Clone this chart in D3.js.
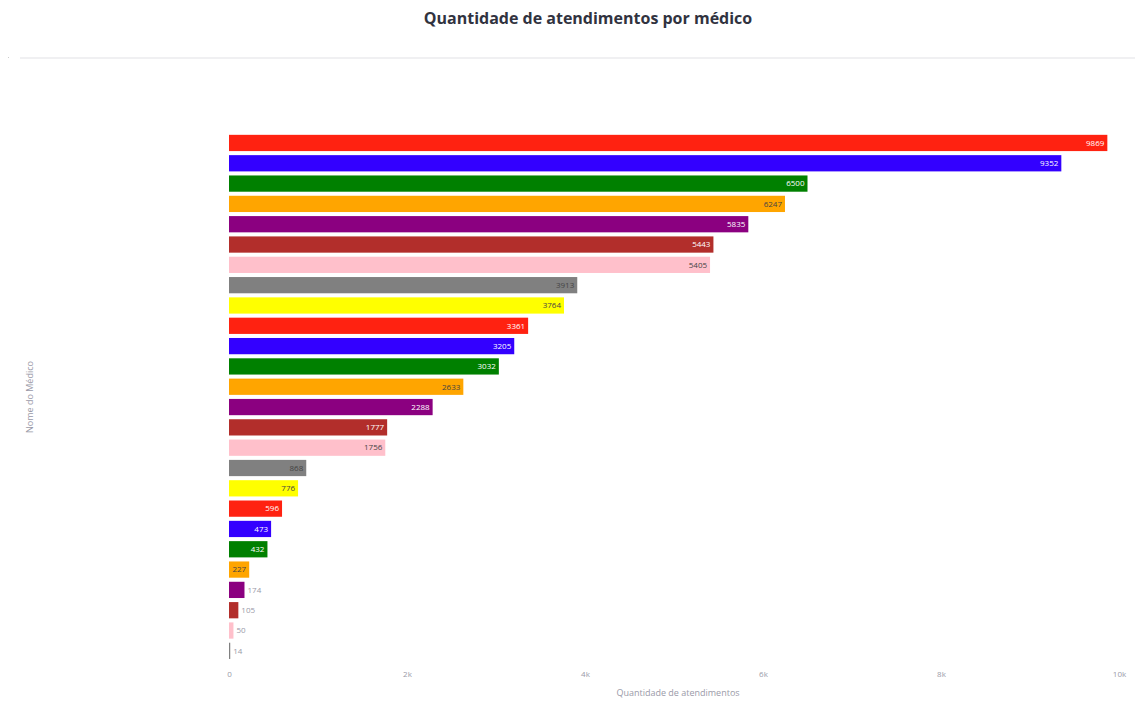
<!DOCTYPE html>
<html><head><meta charset="utf-8">
<script src="https://cdn.jsdelivr.net/npm/d3@7"></script>
<style>body{margin:0;background:#fff}svg{display:block}</style>
</head><body>
<svg id="c" width="1135" height="701"></svg>
<script>
const doctors = ["Médico 1","Médico 2","Médico 3","Médico 4","Médico 5","Médico 6","Médico 7","Médico 8","Médico 9","Médico 10","Médico 11","Médico 12","Médico 13","Médico 14","Médico 15","Médico 16","Médico 17","Médico 18","Médico 19","Médico 20","Médico 21","Médico 22","Médico 23","Médico 24","Médico 25","Médico 26"];
const counts = [9869,9352,6500,6247,5835,5443,5405,3913,3764,3361,3205,3032,2633,2288,1777,1756,868,776,596,473,432,227,174,105,50,14];
const palette = ["#ff2211","#3300ff","#008000","#ffa500","#8b0080","#b22e2b","#ffc0cb","#808080","#ffff00"];
const darkText = ["#ffa500","#ffc0cb","#808080","#ffff00"];
const xTicks = [0,2000,4000,6000,8000,10000];
const xTickLabels = ["0","2k","4k","6k","8k","10k"];

const svg = d3.select("#c");
const font = "'Open Sans', sans-serif";

svg.append("text").attr("x",588).attr("y",24).attr("text-anchor","middle")
  .attr("font-family",font).attr("font-weight","bold").attr("font-size",16).attr("fill","#31333f")
  .text("Quantidade de atendimentos por médico");
svg.append("rect").attr("x",20).attr("y",57).attr("width",1115).attr("height",2).attr("fill","#f0f0f2");
svg.append("rect").attr("x",8).attr("y",57).attr("width",1).attr("height",1).attr("fill","#ccc");

const x = d3.scaleLinear().domain([0,10000]).range([229,1119]);
const y = d3.scaleBand().domain(doctors).range([132.8,661]).paddingInner(0.2).paddingOuter(0.1);

const data = doctors.map((d,i)=>({name:d,v:counts[i],c:palette[i%palette.length]}));

svg.append("g").selectAll("rect").data(data).join("rect")
  .attr("x",x(0)).attr("y",d=>y(d.name)).attr("width",d=>x(d.v)-x(0)).attr("height",y.bandwidth())
  .attr("fill",d=>d.c);

svg.append("g").selectAll("text").data(data).join("text")
  .each(function(d){
    const w = x(d.v)-x(0);
    const inside = w > 18;
    d3.select(this)
      .attr("x", inside ? x(d.v)-3 : x(d.v)+3)
      .attr("y", y(d.name)+y.bandwidth()/2)
      .attr("dy","0.35em")
      .attr("text-anchor", inside ? "end" : "start")
      .attr("fill", inside ? (darkText.includes(d.c) ? "#444" : "#fff") : "#9a9aa8");
  })
  .attr("font-family",font).attr("font-size",8)
  .text(d=>d.v);

const xAxis = d3.axisBottom(x).tickValues(xTicks).tickFormat((d,i)=>xTickLabels[i]).tickSize(0);
const gx = svg.append("g").attr("transform","translate(0,668)").call(xAxis);
gx.select(".domain").remove();
gx.selectAll("text").attr("font-family",font).attr("font-size",8).attr("fill","#9a9aa8");

svg.append("text").attr("x",678).attr("y",696).attr("text-anchor","middle")
  .attr("font-family",font).attr("font-size",9).attr("fill","#9a9aa8")
  .text("Quantidade de atendimentos");
svg.append("text").attr("transform","translate(33,397) rotate(-90)").attr("text-anchor","middle")
  .attr("font-family",font).attr("font-size",9).attr("fill","#9a9aa8")
  .text("Nome do Médico");
</script>
</body></html>
